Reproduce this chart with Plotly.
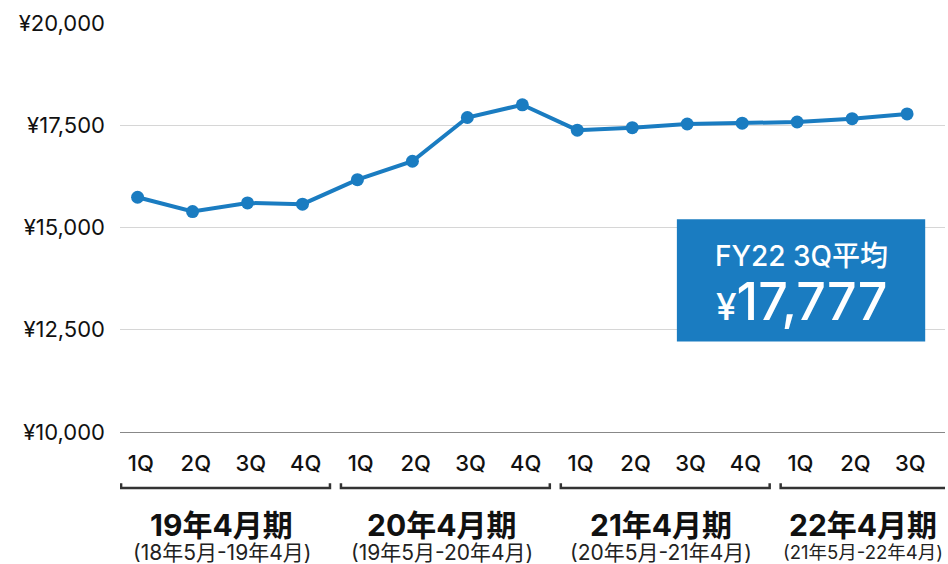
import plotly.graph_objects as go

# quarterly values
quarters = ['1Q', '2Q', '3Q', '4Q', '1Q', '2Q', '3Q', '4Q',
            '1Q', '2Q', '3Q', '4Q', '1Q', '2Q', '3Q']
prices = [15740, 15390, 15600, 15570, 16170, 16620, 17690, 18000,
          17380, 17440, 17530, 17550, 17580, 17660, 17777]

groups = ['19年4月期', '20年4月期', '21年4月期', '22年4月期']
group_periods = ['(18年5月-19年4月)', '(19年5月-20年4月)',
                 '(20年5月-21年4月)', '(21年5月-22年4月)']
group_sizes = [4, 4, 4, 3]

avg_label = 'FY22 3Q平均'
avg_value = 17777

BLUE = '#1a7cc1'
FONT = 'Inter, Noto Sans CJK JP, sans-serif'
X_RANGE = [-0.32, 14.69]

x = list(range(len(prices)))

fig = go.Figure()
fig.add_trace(go.Scatter(x=x, y=prices, mode='lines+markers',
                         line=dict(color=BLUE, width=4),
                         marker=dict(color=BLUE, size=13),
                         hoverinfo='skip'))

# brackets + group labels under the quarter ticks
start = 0
for i, (g, p, n) in enumerate(zip(groups, group_periods, group_sizes)):
    first, last = start, start + n - 1
    x0 = first - 0.3
    sub_size = 21
    if i == len(groups) - 1:
        # last bracket runs off the right edge
        x1 = last + 0.8
        path = f'M {x0},-0.125 L {x0},-0.137 L {x1},-0.137'
        mid = (x0 + X_RANGE[1]) / 2
        sub_size = 18.5
    else:
        x1 = last + 0.5
        path = f'M {x0},-0.125 L {x0},-0.137 L {x1},-0.137 L {x1},-0.125'
        mid = (first + last) / 2 + 0.03
    fig.add_shape(type='path', path=path, xref='x', yref='paper',
                  line=dict(color='#333333', width=2.5))
    fig.add_annotation(x=mid, y=-0.227, xref='x', yref='paper', text=f'<b>{g}</b>',
                       showarrow=False, xanchor='center', yanchor='middle',
                       font=dict(size=30, color='#111111', family=FONT))
    fig.add_annotation(x=mid, y=-0.294, xref='x', yref='paper', text=p,
                       showarrow=False, xanchor='center', yanchor='middle',
                       font=dict(size=sub_size, color='#222222', family=FONT))
    start += n

# average box
fig.add_shape(type='rect', xref='paper', yref='paper',
              x0=0.675, x1=0.976, y0=0.221, y1=0.52,
              fillcolor=BLUE, line=dict(width=0))
fig.add_annotation(x=0.8255, y=0.431, xref='paper', yref='paper', text=avg_label,
                   showarrow=False, xanchor='center', yanchor='middle',
                   font=dict(size=28, color='white', family=FONT, weight=500))
fig.add_annotation(x=0.8255, y=0.318, xref='paper', yref='paper',
                   text=f"<span style='font-size:37px'>¥</span>{avg_value:,}",
                   showarrow=False, xanchor='center', yanchor='middle',
                   font=dict(size=52, color='white', family=FONT, weight=500))

fig.update_layout(width=948, height=564,
                  margin=dict(l=120, r=3, t=23, b=132),
                  plot_bgcolor='white', paper_bgcolor='white',
                  showlegend=False,
                  font=dict(family=FONT, color='#222222'))

fig.update_xaxes(range=X_RANGE, tickvals=[v + 0.06 for v in x], ticktext=quarters,
                 showgrid=False, zeroline=False,
                 showline=True, linecolor='#888888', linewidth=1,
                 ticks='', ticklabelstandoff=12,
                 tickfont=dict(size=22, color='#111111', weight=500))
fig.update_yaxes(range=[10000, 20000], dtick=2500, tickprefix='¥', tickformat=',d',
                 showgrid=True, gridcolor='#d6d6d6', gridwidth=1,
                 zeroline=False, ticks='', ticklabelstandoff=14,
                 tickfont=dict(size=22, color='#111111'))

fig.write_html('out.html', config={'displayModeBar': False},
               post_script="document.body.style.margin='0';")
